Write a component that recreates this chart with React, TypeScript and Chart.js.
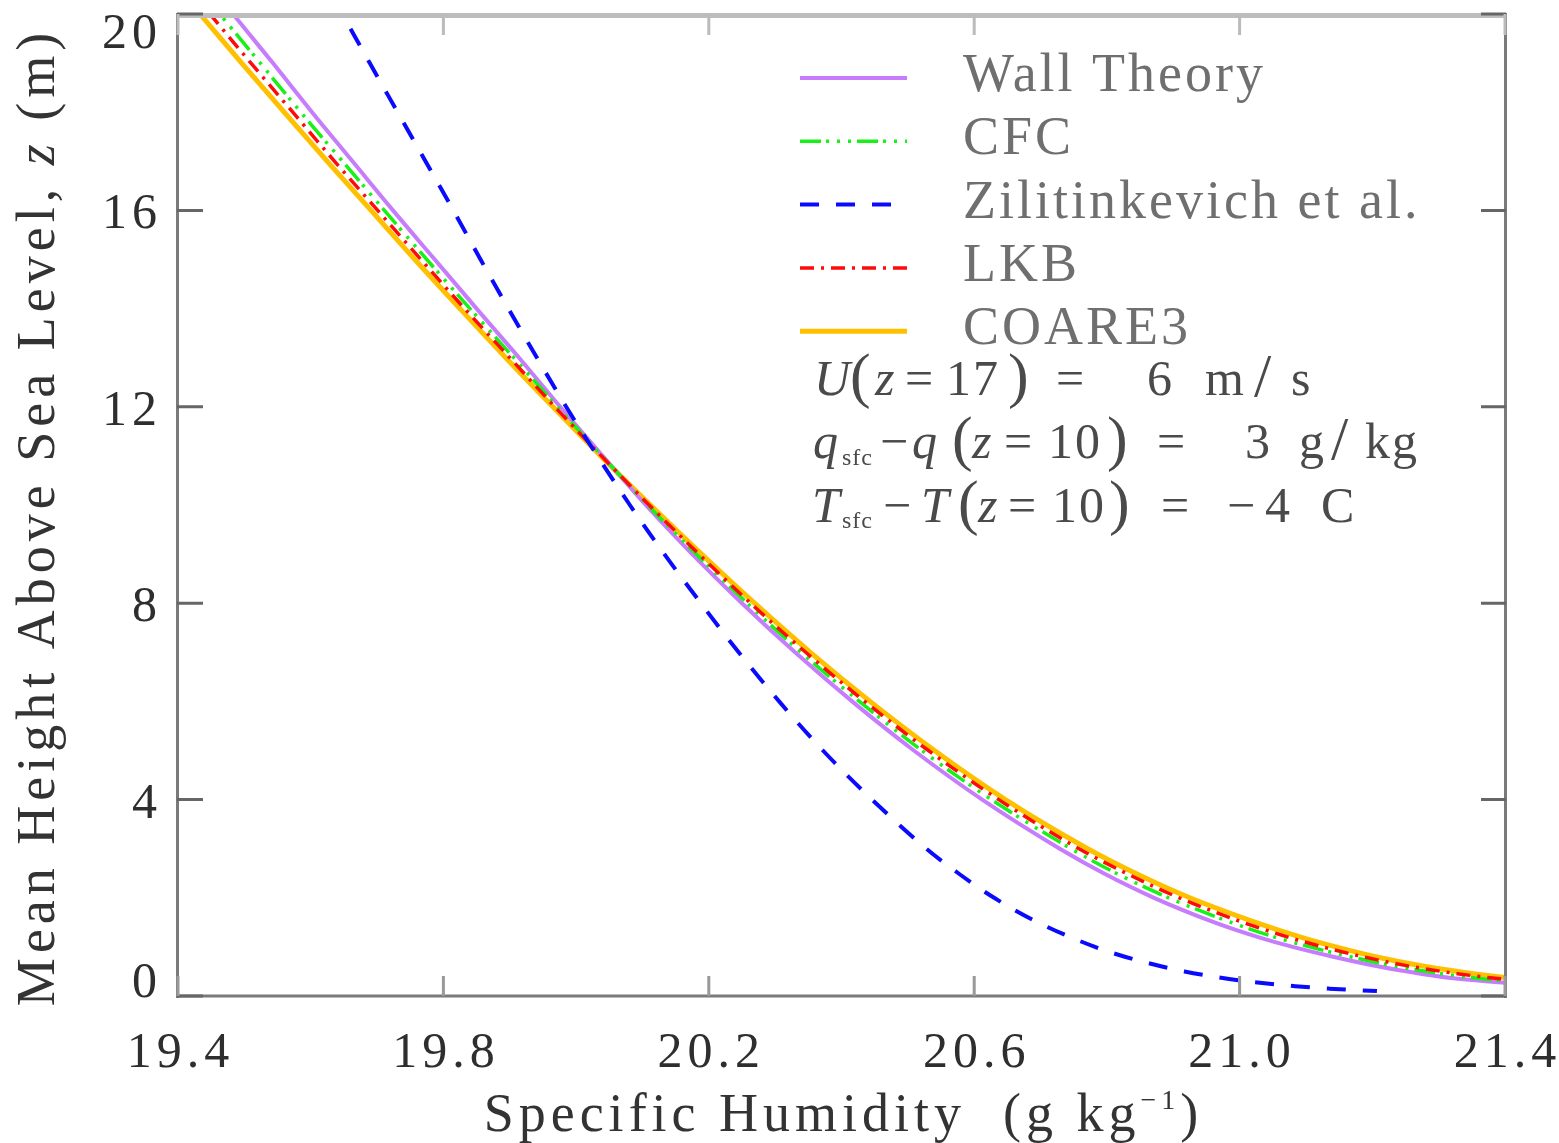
import React, { useEffect, useRef } from 'react';
import { Chart, registerables } from 'chart.js';

Chart.register(...registerables);

// Heights (m) at which the four similarity-theory profiles are tabulated
const HEIGHTS = [20.5, 20, 19, 18, 17, 16, 15, 14, 13, 12, 11, 10, 9, 8, 7, 6, 5, 4, 3, 2.5, 2, 1.5, 1.2, 1.0, 0.8, 0.6, 0.45, 0.35, 0.25];

// Specific humidity (g/kg) of each profile at those heights
const WALL_THEORY = [19.454, 19.483, 19.543, 19.602, 19.663, 19.724, 19.787, 19.85, 19.914, 19.976, 20.04, 20.105, 20.175, 20.25, 20.33, 20.416, 20.509, 20.612, 20.729, 20.795, 20.871, 20.962, 21.028, 21.08, 21.141, 21.21, 21.275, 21.33, 21.42];
const CFC = [19.433, 19.463, 19.524, 19.585, 19.648, 19.711, 19.775, 19.84, 19.906, 19.972, 20.039, 20.108, 20.181, 20.258, 20.339, 20.427, 20.521, 20.626, 20.746, 20.814, 20.893, 20.987, 21.053, 21.106, 21.167, 21.238, 21.307, 21.366, 21.456];
const LKB = [19.417, 19.448, 19.51, 19.573, 19.636, 19.701, 19.766, 19.832, 19.9, 19.968, 20.038, 20.11, 20.185, 20.263, 20.346, 20.435, 20.531, 20.637, 20.758, 20.829, 20.909, 21.005, 21.073, 21.125, 21.186, 21.259, 21.331, 21.393, 21.483];
const COARE3 = [19.402, 19.433, 19.496, 19.56, 19.625, 19.691, 19.757, 19.825, 19.894, 19.965, 20.037, 20.112, 20.189, 20.269, 20.353, 20.443, 20.54, 20.647, 20.771, 20.843, 20.925, 21.024, 21.092, 21.145, 21.205, 21.28, 21.355, 21.42, 21.51];

// Zilitinkevich et al. profile has its own height grid
const ZILI_HEIGHTS = [19.7, 19, 18, 17, 16, 15, 14, 13, 12, 11, 10, 9, 8, 7, 6, 5, 4, 3, 2.5, 2, 1.5, 1, 0.8, 0.6, 0.5, 0.4, 0.3, 0.2, 0.15, 0.1];
const ZILITINKEVICH = [19.66, 19.689, 19.731, 19.773, 19.815, 19.856, 19.898, 19.941, 19.985, 20.032, 20.081, 20.133, 20.188, 20.245, 20.306, 20.372, 20.446, 20.528, 20.576, 20.63, 20.696, 20.782, 20.827, 20.883, 20.917, 20.959, 21.011, 21.084, 21.135, 21.207];

const X_TICKS = [19.4, 19.8, 20.2, 20.6, 21.0, 21.4];
const Y_TICKS = [0, 4, 8, 12, 16, 20];
const X_MIN = 19.4;
const X_MAX = 21.4;
const Y_MIN = 0;
const Y_MAX = 20;

const SERIES_LABELS = ['Wall Theory', 'CFC', 'Zilitinkevich et al.', 'LKB', 'COARE3'];

const FONT = '"Liberation Serif", "Times New Roman", serif';

const toPoints = (qs: number[], zs: number[]) => qs.map((q, i) => ({ x: q, y: zs[i] }));

type Run = { text: string; font: string; dy?: number };

function drawRuns(ctx: any, runs: Run[], x: number, y: number, align: 'left' | 'center') {
  const widths = runs.map((r) => {
    ctx.font = r.font;
    return ctx.measureText(r.text).width;
  });
  const total = widths.reduce((s, w) => s + w, 0);
  let cx = align === 'center' ? x - total / 2 : x;
  ctx.textAlign = 'left';
  runs.forEach((r, i) => {
    ctx.font = r.font;
    ctx.fillText(r.text, cx, y + (r.dy || 0));
    cx += widths[i];
  });
}

// Parameter block under the legend. Token: [text, style, x, dy]
// style: 'r' roman, 'i' italic, 's' subscript, 'b' big delimiter
type Tok = [string, string, number, number?];
const PARAM_LINES: { y: number; toks: Tok[] }[] = [
  {
    y: 395,
    toks: [['U', 'i', 814], ['(', 'b', 850], ['z', 'i', 875], ['=', 'r', 905], ['17', 'r', 946], [')', 'b', 1008], ['=', 'r', 1056], ['6', 'r', 1147], ['m', 'r', 1205], ['/', 'b', 1254], ['s', 'r', 1291]],
  },
  {
    y: 458,
    toks: [['q', 'i', 813], ['sfc', 's', 842, 7], ['\u2212', 'r', 880], ['q', 'i', 912], ['(', 'b', 952], ['z', 'i', 972], ['=', 'r', 1004], ['10', 'r', 1048], [')', 'b', 1107], ['=', 'r', 1157], ['3', 'r', 1245], ['g', 'r', 1299], ['/', 'b', 1331], ['kg', 'r', 1365]],
  },
  {
    y: 522,
    toks: [['T', 'i', 812], ['sfc', 's', 842, 6], ['\u2212', 'r', 883], ['T', 'i', 921], ['(', 'b', 958], ['z', 'i', 978], ['=', 'r', 1008], ['10', 'r', 1052], [')', 'b', 1109], ['=', 'r', 1161], ['\u2212', 'r', 1227], ['4', 'r', 1265], ['C', 'r', 1321]],
  },
];

const decorPlugin = {
  id: 'decor',
  afterDatasetsDraw(chart: any) {
    const { ctx, chartArea: a, scales } = chart;
    const xs = scales.x;
    const ys = scales.y;
    ctx.save();
    ctx.lineCap = 'butt';
    ctx.setLineDash([]);

    // frame
    ctx.strokeStyle = '#bdbdbd';
    ctx.lineWidth = 5;
    ctx.beginPath();
    ctx.moveTo(a.left - 2, a.top + 1.5);
    ctx.lineTo(a.right + 2, a.top + 1.5);
    ctx.stroke();

    ctx.strokeStyle = '#7a7a7a';
    ctx.lineWidth = 3;
    ctx.beginPath();
    ctx.moveTo(a.left - 0.5, a.top - 1);
    ctx.lineTo(a.left - 0.5, a.bottom + 2);
    ctx.moveTo(a.left - 2, a.bottom);
    ctx.lineTo(a.right + 2, a.bottom);
    ctx.moveTo(a.right + 0.5, a.top - 1);
    ctx.lineTo(a.right + 0.5, a.bottom + 2);
    ctx.stroke();

    // inward ticks on all four sides
    ctx.lineWidth = 3;
    ctx.strokeStyle = '#666';
    ctx.beginPath();
    Y_TICKS.forEach((v) => {
      const py = ys.getPixelForValue(v);
      ctx.moveTo(a.left - 1, py);
      ctx.lineTo(a.left + 25, py);
      ctx.moveTo(a.right - 24, py);
      ctx.lineTo(a.right + 1, py);
    });
    ctx.stroke();
    ctx.strokeStyle = '#999';
    ctx.beginPath();
    X_TICKS.forEach((v) => {
      const px = xs.getPixelForValue(v);
      ctx.moveTo(px, a.bottom);
      ctx.lineTo(px, a.bottom - 20);
    });
    ctx.stroke();
    ctx.strokeStyle = '#bbb';
    ctx.beginPath();
    X_TICKS.forEach((v) => {
      const px = xs.getPixelForValue(v);
      ctx.moveTo(px, a.top);
      ctx.lineTo(px, a.top + 21);
    });
    ctx.stroke();

    // tick labels
    const tickLs = 5;
    ctx.fillStyle = '#2e2e2e';
    ctx.font = `50px ${FONT}`;
    ctx.letterSpacing = `${tickLs}px`;
    ctx.textBaseline = 'alphabetic';
    ctx.textAlign = 'center';
    X_TICKS.forEach((v) => {
      ctx.fillText(v.toFixed(1), xs.getPixelForValue(v) + tickLs / 2, 1067);
    });
    ctx.textAlign = 'right';
    Y_TICKS.forEach((v) => {
      const base = Math.min(Math.max(ys.getPixelForValue(v) + 18, 48), 997);
      ctx.fillText(String(v), a.left - 21 + tickLs, base);
    });

    // axis titles
    ctx.fillStyle = '#333';
    ctx.letterSpacing = '5px';
    drawRuns(
      ctx,
      [
        { text: 'Specific Humidity  (g kg', font: `54px ${FONT}` },
        { text: '\u22121', font: `28px ${FONT}`, dy: -22 },
        { text: ')', font: `54px ${FONT}` },
      ],
      (a.left + a.right) / 2 + 2,
      1131,
      'center'
    );
    ctx.save();
    ctx.translate(54, 517);
    ctx.rotate(-Math.PI / 2);
    drawRuns(
      ctx,
      [
        { text: 'Mean Height Above Sea Level, ', font: `54px ${FONT}` },
        { text: 'z', font: `italic 54px ${FONT}` },
        { text: ' (m)', font: `54px ${FONT}` },
      ],
      0,
      0,
      'center'
    );
    ctx.restore();

    // legend
    chart.data.datasets.forEach((ds: any, row: number) => {
      const ly = 78 + row * 63.3;
      ctx.strokeStyle = ds.borderColor;
      ctx.lineWidth = ds.borderWidth;
      ctx.setLineDash(ds.borderDash || []);
      ctx.beginPath();
      ctx.moveTo(800, ly);
      ctx.lineTo(907, ly);
      ctx.stroke();
      ctx.setLineDash([]);
      ctx.fillStyle = '#6f6f6f';
      ctx.letterSpacing = '3px';
      ctx.font = `54px ${FONT}`;
      ctx.textAlign = 'left';
      ctx.fillText(ds.label, 963, ly + 13);
    });

    // parameter annotations
    ctx.fillStyle = '#4a4a4a';
    ctx.textAlign = 'left';
    PARAM_LINES.forEach((line) => {
      line.toks.forEach(([t, style, x, dy]) => {
        let font = `50px ${FONT}`;
        let yOff = dy || 0;
        ctx.letterSpacing = '2px';
        if (style === 'i') font = `italic 50px ${FONT}`;
        if (style === 's') {
          font = `24px ${FONT}`;
          ctx.letterSpacing = '1px';
        }
        if (style === 'b') {
          font = `62px ${FONT}`;
          yOff = 1;
        }
        ctx.font = font;
        ctx.fillText(t, x, line.y + yOff);
      });
    });

    ctx.restore();
  },
};

export default function App() {
  const canvasRef = useRef<HTMLCanvasElement>(null);

  useEffect(() => {
    const canvas = canvasRef.current;
    if (!canvas) return;
    const line = { showLine: true, pointRadius: 0, pointHoverRadius: 0, fill: false, cubicInterpolationMode: 'monotone', clip: 0 };
    const chart = new Chart(canvas, {
      type: 'scatter',
      data: {
        datasets: [
          { ...line, label: SERIES_LABELS[0], data: toPoints(WALL_THEORY, HEIGHTS), borderColor: '#c77cfc', borderWidth: 4, order: 4 },
          { ...line, label: SERIES_LABELS[1], data: toPoints(CFC, HEIGHTS), borderColor: '#18f018', borderWidth: 3.5, borderDash: [21, 5, 3, 8, 3, 8, 3, 6], order: 3 },
          { ...line, label: SERIES_LABELS[2], data: toPoints(ZILITINKEVICH, ZILI_HEIGHTS), borderColor: '#0a0aff', borderWidth: 4, borderDash: [19, 17], order: 1 },
          { ...line, label: SERIES_LABELS[3], data: toPoints(LKB, HEIGHTS), borderColor: '#ff0a0a', borderWidth: 3.5, borderDash: [14, 7, 3, 7], order: 2 },
          { ...line, label: SERIES_LABELS[4], data: toPoints(COARE3, HEIGHTS), borderColor: '#ffc000', borderWidth: 5, order: 5 },
        ] as any,
      },
      options: {
        animation: false,
        responsive: false,
        layout: { padding: { left: 178, right: 54, top: 14, bottom: 147 } },
        scales: {
          x: { type: 'linear', min: X_MIN, max: X_MAX, display: false },
          y: { type: 'linear', min: Y_MIN, max: Y_MAX, display: false },
        },
        plugins: { legend: { display: false }, tooltip: { enabled: false } },
        events: [],
      },
      plugins: [decorPlugin],
    } as any);
    return () => chart.destroy();
  }, []);

  return (
    <div style={{ position: 'absolute', left: 0, top: 0, width: 1559, height: 1143, background: '#fff' }}>
      <canvas ref={canvasRef} width={1559} height={1143} style={{ display: 'block', width: 1559, height: 1143 }} />
    </div>
  );
}
